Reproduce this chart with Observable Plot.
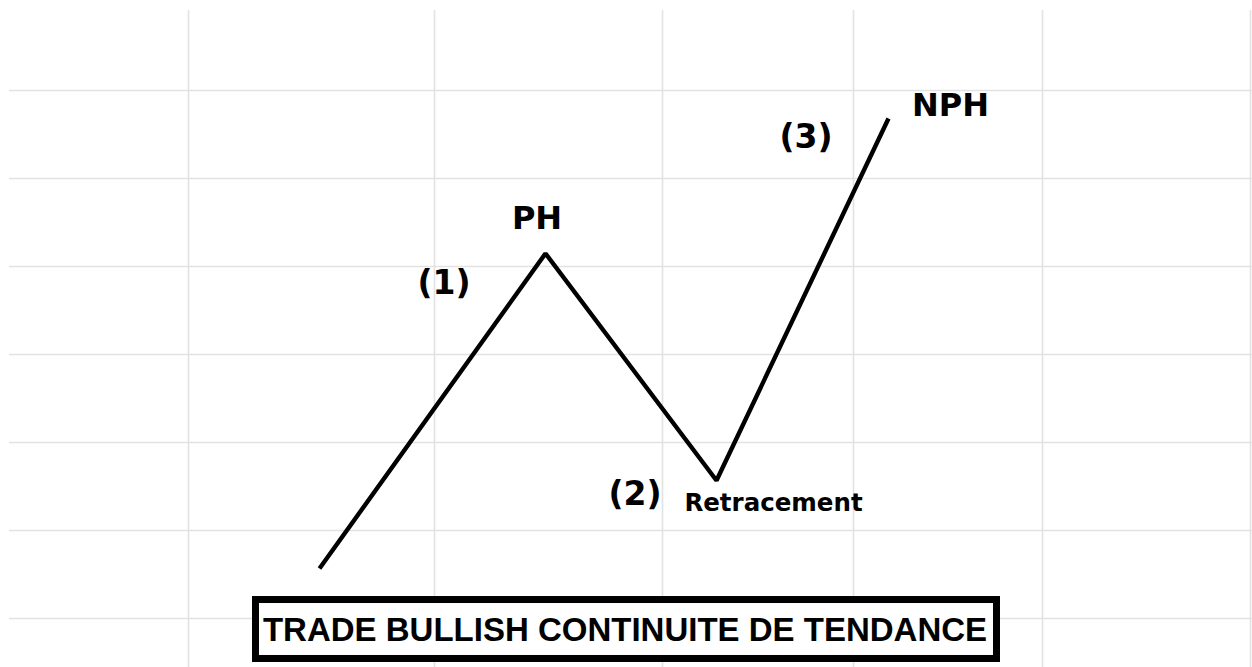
<!DOCTYPE html>
<html>
<head>
<meta charset="utf-8">
<script src="https://cdn.jsdelivr.net/npm/d3@7"></script>
<script src="https://cdn.jsdelivr.net/npm/@observablehq/plot@0.6"></script>
<style>
  html, body { margin: 0; padding: 0; background: #fff; }
  #chart svg { display: block; }
</style>
</head>
<body>
<div id="chart"></div>
<script>
// Grid (spreadsheet-like cells), x in 100px "column units", y in row units
const gridCols = [1.88, 4.34, 6.62, 8.53, 10.42, 12.50];
const gridRows = [0, 1, 2, 3, 4, 5, 6];

// Price path: start, PH, retracement low, NPH
const pathX = [3.19, 5.45, 7.16, 8.88];
const pathY = [0.568, 4.148, 1.568, 5.682];

// Annotations
const peakLabels = ["PH", "NPH"];
const peakLabelX = [5.365, 9.50];
const peakLabelY = [4.545, 5.83];
const stepLabels = ["(1)", "(2)", "(3)"];
const stepLabelX = [4.435, 6.345, 8.055];
const stepLabelY = [3.807, 1.409, 5.466];
const smallLabels = ["Retracement"];
const smallLabelX = [7.73];
const smallLabelY = [1.307];

// Caption box
const captionText = "TRADE BULLISH CONTINUITE DE TENDANCE";
const captionBox = {x1: 2.555, x2: 9.965, y1: 0.210, y2: -0.460, cx: 6.245, cy: -0.140};

const path = pathX.map((x, i) => ({x, y: pathY[i]}));
const peaks = peakLabels.map((t, i) => ({t, x: peakLabelX[i], y: peakLabelY[i]}));
const steps = stepLabels.map((t, i) => ({t, x: stepLabelX[i], y: stepLabelY[i]}));
const small = smallLabels.map((t, i) => ({t, x: smallLabelX[i], y: smallLabelY[i]}));

const chart = Plot.plot({
  width: 1252,
  height: 667,
  margin: 0,
  x: {domain: [0, 12.52], axis: null},
  y: {domain: [-0.5568, 7.0227], axis: null},
  style: {background: "#fff"},
  marks: [
    Plot.ruleY(gridRows, {x1: 0.09, x2: 12.52, stroke: "#e2e2e2", strokeWidth: 1.6}),
    Plot.ruleX(gridCols, {y1: 6.909, y2: -0.5568, stroke: "#e2e2e2", strokeWidth: 1.6}),
    Plot.line(path, {x: "x", y: "y", stroke: "#000", strokeWidth: 4.4, strokeLinejoin: "miter", strokeLinecap: "butt"}),
    Plot.text(peaks, {x: "x", y: "y", text: "t", fontFamily: "DejaVu Sans", fontWeight: "bold", fontSize: 32, fill: "#000"}),
    Plot.text(steps, {x: "x", y: "y", text: "t", fontFamily: "DejaVu Sans", fontWeight: "bold", fontSize: 33, fill: "#000"}),
    Plot.text(small, {x: "x", y: "y", text: "t", fontFamily: "DejaVu Sans", fontWeight: "bold", fontSize: 24.5, fill: "#000"}),
    Plot.rect([captionBox], {x1: "x1", x2: "x2", y1: "y1", y2: "y2", fill: "#fff", stroke: "#000", strokeWidth: 7}),
    Plot.text([captionBox], {x: "cx", y: "cy", text: () => captionText, fontFamily: "Liberation Sans", fontWeight: "bold", fontSize: 33, fill: "#000"})
  ]
});
document.getElementById("chart").append(chart);
</script>
</body>
</html>
